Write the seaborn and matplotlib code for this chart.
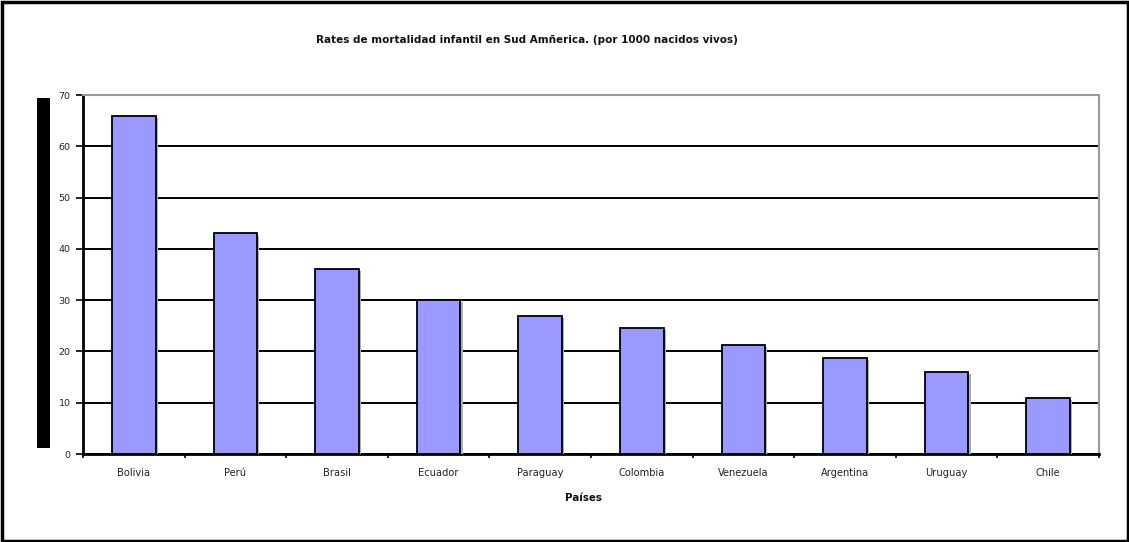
import matplotlib
matplotlib.use("Agg")
import matplotlib.pyplot as plt
import matplotlib.patheffects as pe
from matplotlib.patches import Rectangle
import pandas as pd
import seaborn as sns

# Infant mortality rates (per 1000 live births)
paises = ["Bolivia", "Perú", "Brasil", "Ecuador", "Paraguay",
          "Colombia", "Venezuela", "Argentina", "Uruguay", "Chile"]
tasas = [66, 43, 36, 30, 27, 24.6, 21.2, 18.8, 16, 11]
y_ticks = [0, 10, 20, 30, 40, 50, 60, 70]

titulo = "Rates de mortalidad infantil en Sud Amñerica. (por 1000 nacidos vivos)"
eje_x = "Países"

sns.set_theme(style="white")
plt.rcParams["font.family"] = ["DejaVu Sans"]

W, H = 1129, 542
fig = plt.figure(figsize=(W / 100, H / 100), dpi=100)
fig.patch.set_facecolor("white")

ax = fig.add_axes([83 / W, 1 - 454 / H, (1099 - 83) / W, (454 - 95) / H])
df = pd.DataFrame({"pais": paises, "tasa": tasas})
sns.barplot(data=df, x="pais", y="tasa", ax=ax, color="#9999FF",
            saturation=1, width=0.43, edgecolor="black", linewidth=1.3,
            zorder=3)
for bar in ax.patches:
    bar.set_path_effects([pe.SimplePatchShadow(offset=(1.5, -1.5),
                                               shadow_rgbFace="#b0b0b0",
                                               alpha=1.0),
                          pe.Normal()])

ax.set_xlim(-0.5, len(paises) - 0.5)
ax.set_ylim(y_ticks[0], y_ticks[-1])
ax.set_yticks(y_ticks)
ax.yaxis.grid(True, color="black", linewidth=1.4)
ax.xaxis.grid(False)
ax.set_axisbelow(True)

ax.set_xticks(range(len(paises)))
ax.set_xticklabels(paises)
ax.set_xticks([i - 0.5 for i in range(len(paises) + 1)], minor=True)
ax.tick_params(axis="x", which="major", length=0, pad=10, labelsize=7.1,
               labelcolor="#222222")
ax.tick_params(axis="x", which="minor", length=3, width=1.2,
               color="black", direction="out", bottom=True)
ax.tick_params(axis="y", length=5, width=1.2, color="black",
               direction="out", left=True, pad=4, labelsize=6.8,
               labelcolor="#222222")
ax.set_xlabel("")
ax.set_ylabel("")

for side in ("left", "bottom"):
    ax.spines[side].set_color("black")
    ax.spines[side].set_linewidth(2)
for side in ("top", "right"):
    ax.spines[side].set_color("#999999")
    ax.spines[side].set_linewidth(1.5)

fig.text(527 / W, 1 - 40 / H, titulo, ha="center", va="center",
         fontsize=7.5, fontweight="bold", color="#111111")
fig.text(583 / W, 1 - 498 / H, eje_x, ha="center", va="center",
         fontsize=7.4, fontweight="bold", color="#111111")

# dark bar standing in for the vertical axis title
fig.add_artist(Rectangle((37 / W, 1 - 448 / H), 13 / W, 350 / H,
                         transform=fig.transFigure, facecolor="black",
                         edgecolor="none"))
# outer chart border
fig.add_artist(Rectangle((1.5 / W, 1.5 / H), (W - 3) / W, (H - 3) / H,
                         transform=fig.transFigure, facecolor="none",
                         edgecolor="black", linewidth=2.5))

fig.savefig("out.png", dpi=100)
